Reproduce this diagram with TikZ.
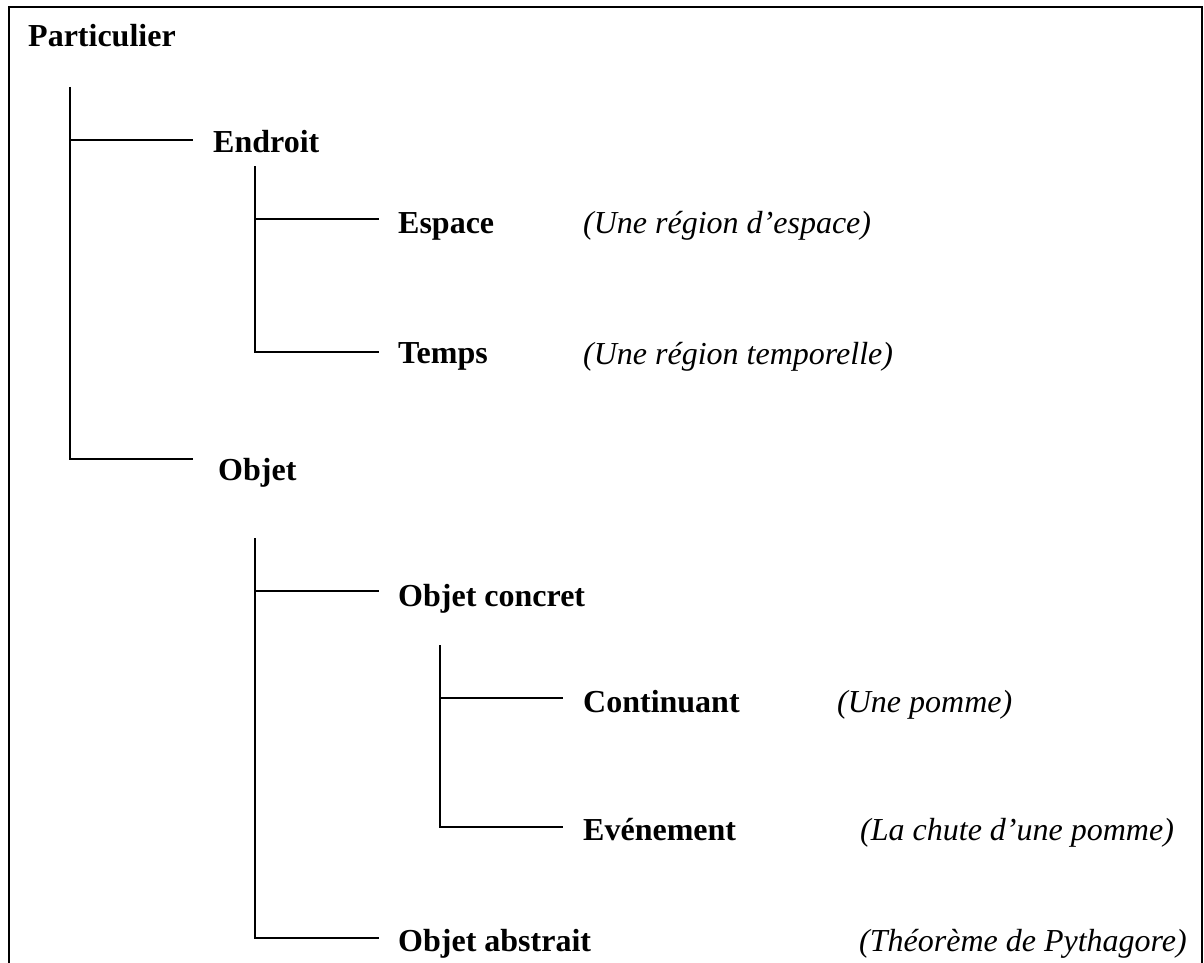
\documentclass[tikz,border=0pt]{standalone}
\usepackage{fontspec}
\setmainfont{Liberation Serif}
\usetikzlibrary{calc}
\begin{document}
\begin{tikzpicture}[x=1pt,y=-1pt,
  lab/.style={anchor=base west,inner sep=0pt,font=\fontsize{32}{38}\selectfont\bfseries},
  note/.style={anchor=base west,inner sep=0pt,font=\fontsize{32}{38}\selectfont\itshape},
  branch/.style={line width=1.1pt},
  frame/.style={line width=2.2pt}]
\useasboundingbox (0,0) rectangle (1204,963);

% open frame (no bottom edge)
\draw[frame] (9,963) -- (9,7) -- (1202,7) -- (1202,963);

% category labels
\node[lab] (part)    at (28,47)  {Particulier};
\node[lab] (endroit) at (213,152) {Endroit};
\node[lab] (objet)   at (218,480) {Objet};
\node[lab] (espace)  at (398,233) {Espace};
\node[lab] (temps)   at (398,363) {Temps};
\node[lab] (oconc)   at (398,606) {Objet concret};
\node[lab] (oabs)    at (398,951) {Objet abstrait};
\node[lab] (cont)    at (583,712) {Continuant};
\node[lab] (even)    at (583,840) {Evénement};

% examples
\node[note] (nesp)  at (583,233) {(Une région d’espace)};
\node[note] (ntps)  at (583,364) {(Une région temporelle)};
\node[note] (ncont) at (837,712) {(Une pomme)};
\node[note] (neven) at (860,840) {(La chute d’une pomme)};
\node[note] (nabs)  at (859,951) {(Théorème de Pythagore)};

% trunk tops
\coordinate (t1) at ($(part.base west)+(42,40)$);
\coordinate (t2) at ($(endroit.base west)+(42,14)$);
\coordinate (t3) at ($(oconc.base west)+(-143,-68)$);
\coordinate (t4) at ($(cont.base west)+(-143,-67)$);

% branch ends
\coordinate (e-endroit) at ($(endroit.base west)+(-20,-12)$);
\coordinate (e-objet)   at ($(objet.base west)+(-25,-21)$);
\coordinate (e-espace)  at ($(espace.base west)+(-19,-14)$);
\coordinate (e-temps)   at ($(temps.base west)+(-19,-11)$);
\coordinate (e-oconc)   at ($(oconc.base west)+(-19,-15)$);
\coordinate (e-oabs)    at ($(oabs.base west)+(-19,-13)$);
\coordinate (e-cont)    at ($(cont.base west)+(-20,-14)$);
\coordinate (e-even)    at ($(even.base west)+(-20,-13)$);

% tree connectors
\draw[branch] (t1) |- (e-objet);
\draw[branch] (t1 |- e-endroit) -- (e-endroit);
\draw[branch] (t2) |- (e-temps);
\draw[branch] (t2 |- e-espace) -- (e-espace);
\draw[branch] (t3) |- (e-oabs);
\draw[branch] (t3 |- e-oconc) -- (e-oconc);
\draw[branch] (t4) |- (e-even);
\draw[branch] (t4 |- e-cont) -- (e-cont);
\end{tikzpicture}
\end{document}
